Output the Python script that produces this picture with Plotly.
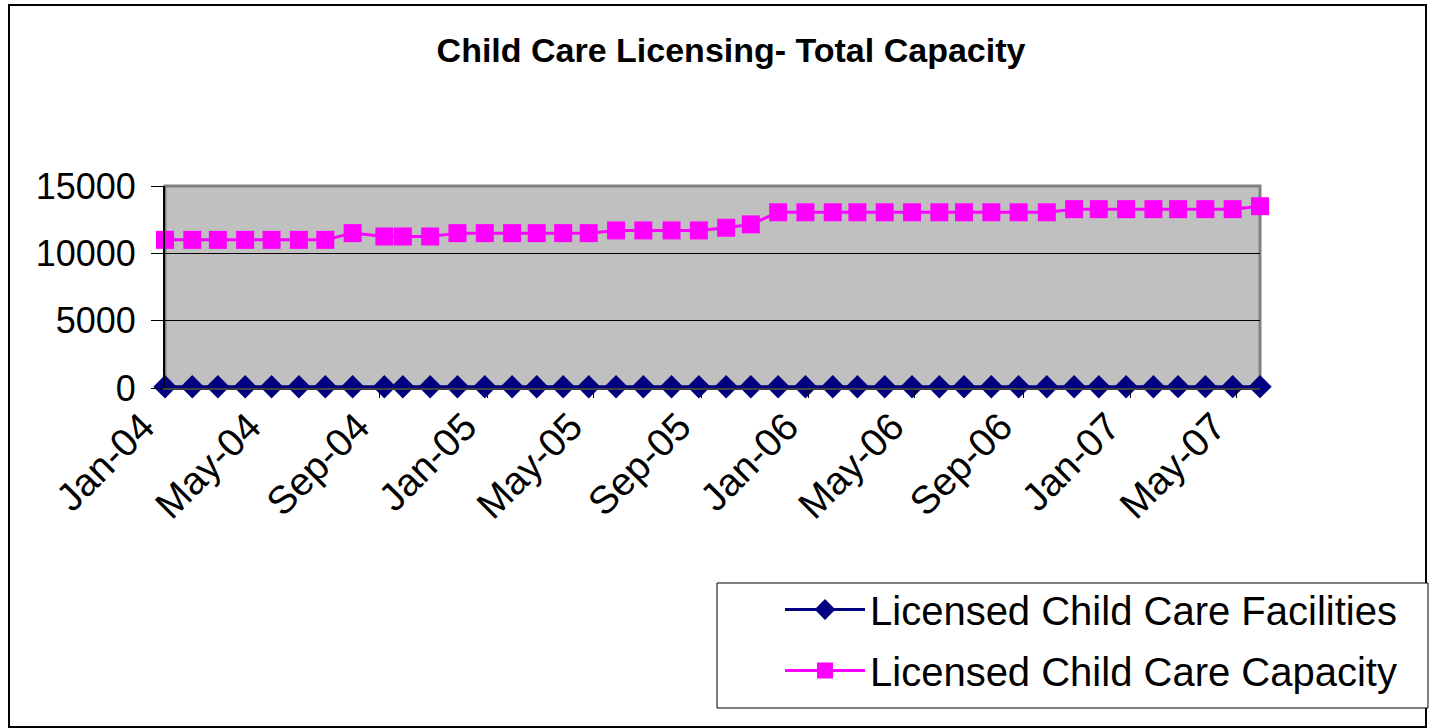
import plotly.graph_objects as go

# ---- data ----
dates = [
    "2004-01-01", "2004-02-01", "2004-03-01", "2004-04-01", "2004-05-01", "2004-06-01",
    "2004-07-01", "2004-08-01", "2004-09-06", "2004-09-27", "2004-10-28", "2004-11-28",
    "2004-12-29", "2005-01-29", "2005-02-26", "2005-03-28", "2005-04-26", "2005-05-27",
    "2005-06-27", "2005-07-29", "2005-08-29", "2005-09-29", "2005-10-27", "2005-11-27",
    "2005-12-28", "2006-01-28", "2006-02-25", "2006-03-28", "2006-04-28", "2006-05-29",
    "2006-06-26", "2006-07-27", "2006-08-27", "2006-09-28", "2006-10-29", "2006-11-26",
    "2006-12-27", "2007-01-27", "2007-02-24", "2007-03-27", "2007-04-27", "2007-05-28",
]
facilities = [
    90, 90, 90, 90, 90, 90, 90, 92, 92, 92, 92, 93, 93, 93,
    93, 93, 94, 94, 94, 94, 95, 95, 95, 96, 96, 96, 96, 96,
    97, 97, 97, 97, 97, 98, 98, 98, 98, 98, 99, 99, 99, 100,
]
capacity = [
    11000, 11000, 11000, 11000, 11000, 11000, 11000, 11500, 11250, 11250, 11250, 11500,
    11500, 11500, 11500, 11500, 11500, 11700, 11700, 11700, 11700, 11900, 12150, 13050,
    13050, 13050, 13050, 13050, 13050, 13050, 13050, 13050, 13050, 13050, 13280, 13280,
    13280, 13280, 13280, 13280, 13280, 13500,
]
series_names = ["Licensed Child Care Facilities", "Licensed Child Care Capacity"]
title_text = "Child Care Licensing- Total Capacity"
y_ticks = [0, 5000, 10000, 15000]
y_tick_labels = ["0", "5000", "10000", "15000"]

FONT = "Liberation Sans, Arial, Helvetica, sans-serif"

fig = go.Figure()
fig.add_trace(go.Scatter(
    x=dates, y=facilities, name=series_names[0], mode="lines+markers",
    line=dict(color="#000080", width=3),
    marker=dict(symbol="diamond", size=18, color="#000080"),
    cliponaxis=False, legendgroup="a",
))
fig.add_trace(go.Scatter(
    x=dates, y=capacity, name=series_names[1], mode="lines+markers",
    line=dict(color="#FF00FF", width=3),
    marker=dict(symbol="square", size=18, color="#FF00FF"),
    cliponaxis=False, legendgroup="b",
))

# plot area: x 165..1260, y 186..388 (px)
PW, PH = 1095.0, 202.0
def px_x(p):
    return (p - 165) / PW
def px_y(p):
    return (388 - p) / PH

shapes = [
    # outer chart border
    dict(type="rect", xref="paper", yref="paper",
         x0=px_x(9), x1=px_x(1426), y0=px_y(727), y1=px_y(5),
         line=dict(color="black", width=2), fillcolor="rgba(0,0,0,0)", layer="below"),
    # plot area border
    dict(type="rect", xref="paper", yref="paper", x0=0, x1=1, y0=0, y1=1,
         line=dict(color="#808080", width=3), fillcolor="rgba(0,0,0,0)", layer="below"),
    # legend box
    dict(type="rect", xref="paper", yref="paper",
         x0=px_x(717), x1=px_x(1428), y0=px_y(708), y1=px_y(583),
         line=dict(color="black", width=1), fillcolor="white", layer="below"),
]

fig.update_layout(
    width=1431, height=728, autosize=False,
    margin=dict(l=165, r=171, t=186, b=340, pad=0),
    paper_bgcolor="white", plot_bgcolor="#C0C0C0",
    font=dict(family=FONT, color="black"),
    title=dict(text="<b>" + title_text + "</b>", x=731 / 1431, xanchor="center",
               y=1 - 50 / 728, yanchor="middle", font=dict(size=34, family=FONT)),
    shapes=shapes,
    showlegend=True,
    legend=dict(
        x=px_x(780), y=px_y(577), xanchor="left", yanchor="top",
        bgcolor="rgba(0,0,0,0)", borderwidth=0,
        font=dict(size=40, family=FONT), itemwidth=80,
        traceorder="grouped", tracegroupgap=6,
    ),
    xaxis=dict(
        type="date", range=[dates[0], dates[-1]],
        tick0="2004-01-01", dtick="M4", tickformat="%b-%y", tickangle=-45,
        ticks="outside", ticklen=8, tickcolor="black", tickwidth=1,
        showline=True, linecolor="#404040", linewidth=2, showgrid=False,
        tickfont=dict(size=39, family=FONT), zeroline=False,
        ticklabelstandoff=-10, ticklabelshift=-22,
    ),
    yaxis=dict(
        range=[0, 15000], tickvals=y_ticks, ticktext=y_tick_labels,
        ticks="outside", ticklen=12, tickcolor="black", tickwidth=1,
        showline=True, linecolor="black", linewidth=2,
        showgrid=True, gridcolor="black", gridwidth=1,
        tickfont=dict(size=36, family=FONT), zeroline=False,
        ticklabelstandoff=8,
    ),
)

fig.write_html("out.html", config={"displayModeBar": False},
               post_script="document.body.style.margin='0';")
